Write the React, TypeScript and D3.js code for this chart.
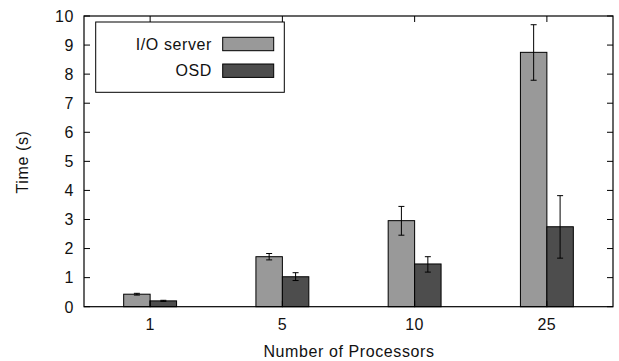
import React from "react";
import * as d3 from "d3";

const processors = ["1", "5", "10", "25"];
const seriesNames = ["I/O server", "OSD"];
const seriesColors = ["#999999", "#4d4d4d"];
const ioServerMean = [0.43, 1.72, 2.96, 8.75];
const ioServerLow = [0.4, 1.61, 2.46, 7.79];
const ioServerHigh = [0.46, 1.83, 3.45, 9.7];
const osdMean = [0.2, 1.03, 1.47, 2.75];
const osdLow = [0.18, 0.9, 1.19, 1.67];
const osdHigh = [0.22, 1.17, 1.72, 3.82];
const yTicks = [0, 1, 2, 3, 4, 5, 6, 7, 8, 9, 10];

const W = 619;
const H = 361;
const margin = { left: 84, right: 6, top: 16, bottom: 54.3 };
const font = "'Liberation Sans', Arial, Helvetica, sans-serif";
const fs = 16;
const ls = 0.6;

export default function App() {
  const x = d3
    .scaleBand<string>()
    .domain(processors)
    .range([margin.left, W - margin.right])
    .padding(0);
  const y = d3
    .scaleLinear()
    .domain([0, 10])
    .range([H - margin.bottom, margin.top]);

  const bw = x.bandwidth() * 0.2;
  const series = [
    { mean: ioServerMean, low: ioServerLow, high: ioServerHigh },
    { mean: osdMean, low: osdLow, high: osdHigh },
  ];
  const x0 = margin.left;
  const x1 = W - margin.right;
  const y0 = y(0);
  const yTop = y(10);
  const tickLen = 6;

  return (
    <svg
      width={W}
      height={H}
      style={{ position: "absolute", left: 0, top: 0, background: "#fff" }}
      fontFamily={font}
      fill="#111"
    >
      {/* bars */}
      {series.map((s, si) =>
        processors.map((p, i) => {
          const cx = (x(p) as number) + x.bandwidth() / 2;
          const bx = cx - bw + si * bw;
          return (
            <g key={`${si}-${i}`}>
              <rect
                x={bx}
                y={y(s.mean[i])}
                width={bw}
                height={y0 - y(s.mean[i])}
                fill={seriesColors[si]}
                stroke="#000"
                strokeWidth={1}
              />
              <line
                x1={bx + bw / 2}
                x2={bx + bw / 2}
                y1={y(s.low[i])}
                y2={y(s.high[i])}
                stroke="#000"
                strokeWidth={1}
              />
              <line
                x1={bx + bw / 2 - 3}
                x2={bx + bw / 2 + 3}
                y1={y(s.low[i])}
                y2={y(s.low[i])}
                stroke="#000"
                strokeWidth={1}
              />
              <line
                x1={bx + bw / 2 - 3}
                x2={bx + bw / 2 + 3}
                y1={y(s.high[i])}
                y2={y(s.high[i])}
                stroke="#000"
                strokeWidth={1}
              />
            </g>
          );
        })
      )}

      {/* frame */}
      <rect
        x={x0}
        y={yTop}
        width={x1 - x0}
        height={y0 - yTop}
        fill="none"
        stroke="#000"
        strokeWidth={1.2}
      />

      {/* y ticks, mirrored on the right */}
      {yTicks.map((t) => (
        <g key={t}>
          <line x1={x0} x2={x0 + tickLen} y1={y(t)} y2={y(t)} stroke="#000" />
          <line x1={x1} x2={x1 - tickLen} y1={y(t)} y2={y(t)} stroke="#000" />
          <text
            x={x0 - 10}
            y={y(t) + 5.8}
            textAnchor="end"
            fontSize={fs}
            letterSpacing={ls}
          >
            {t}
          </text>
        </g>
      ))}

      {/* x ticks, mirrored on top */}
      {processors.map((p) => {
        const cx = (x(p) as number) + x.bandwidth() / 2;
        return (
          <g key={p}>
            <line x1={cx} x2={cx} y1={y0} y2={y0 - tickLen} stroke="#000" />
            <line x1={cx} x2={cx} y1={yTop} y2={yTop + tickLen} stroke="#000" />
            <text
              x={cx}
              y={y0 + 23.5}
              textAnchor="middle"
              fontSize={fs}
              letterSpacing={ls}
            >
              {p}
            </text>
          </g>
        );
      })}

      {/* axis titles */}
      <text
        x={349}
        y={357}
        textAnchor="middle"
        fontSize={fs}
        letterSpacing={ls}
      >
        Number of Processors
      </text>
      <text
        transform={`translate(28,162) rotate(-90)`}
        textAnchor="middle"
        fontSize={fs}
        letterSpacing={ls}
      >
        Time (s)
      </text>

      {/* legend */}
      <rect
        x={95.7}
        y={22}
        width={188.6}
        height={70.3}
        fill="#fff"
        stroke="#000"
        strokeWidth={1}
      />
      {seriesNames.map((n, i) => (
        <g key={n}>
          <text
            x={212}
            y={49.7 + i * 26.7}
            textAnchor="end"
            fontSize={fs}
            letterSpacing={ls}
          >
            {n}
          </text>
          <rect
            x={222.7}
            y={37.3 + i * 26.7}
            width={51}
            height={13.4}
            fill={seriesColors[i]}
            stroke="#000"
            strokeWidth={1}
          />
        </g>
      ))}
    </svg>
  );
}
